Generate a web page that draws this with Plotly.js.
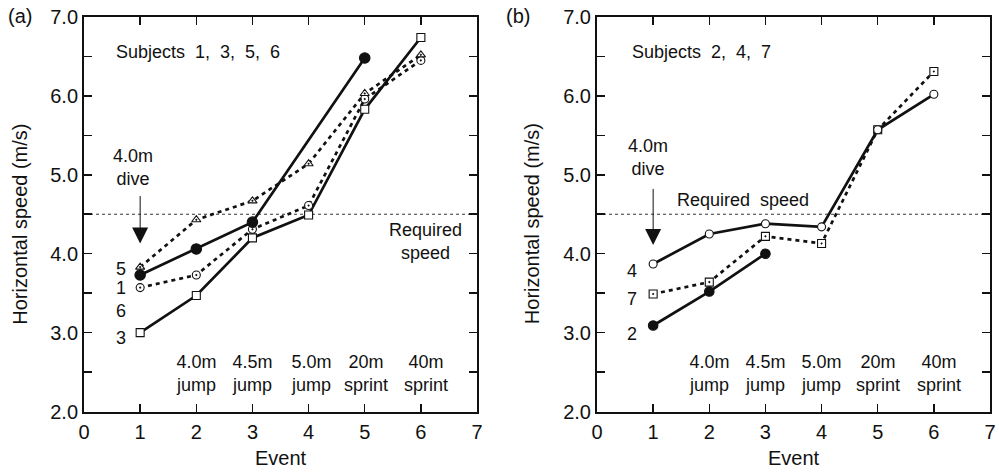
<!DOCTYPE html>
<html>
<head>
<meta charset="utf-8">
<script src="https://cdn.plot.ly/plotly-3.0.1.min.js"></script>
<style>html,body{margin:0;padding:0;background:#fff}#chart{width:999px;height:476px}</style>
</head>
<body>
<div id="chart"></div>
<script>
// ---- Data ----
const events = [1, 2, 3, 4, 5, 6];
const eventsToFive = [1, 2, 3, 5];
const eventsToThree = [1, 2, 3];
const xTickVals = [0, 1, 2, 3, 4, 5, 6, 7];
const xTickText = ['0', '1', '2', '3', '4', '5', '6', '7'];
const requiredSpeed = 4.5;

// Panel (a): subjects 1, 3, 5, 6
const subjA_triangle = [3.83, 4.43, 4.67, 5.14, 6.03, 6.52];
const subjA_filled = [3.73, 4.06, 4.40, 6.48];
const subjA_dotCircle = [3.57, 3.73, 4.31, 4.61, 5.96, 6.45];
const subjA_square = [3.00, 3.47, 4.20, 4.49, 5.83, 6.74];

// Panel (b): subjects 2, 4, 7
const subjB_openCircle = [3.87, 4.25, 4.38, 4.34, 5.57, 6.02];
const subjB_dotSquare = [3.49, 3.64, 4.22, 4.13, 5.57, 6.31];
const subjB_filled = [3.09, 3.52, 4.00];

const eventLabels = ['4.0m<br>jump', '4.5m<br>jump', '5.0m<br>jump', '20m<br>sprint', '40m<br>sprint'];
const eventLabelX_A = [2.0, 3.0, 4.06, 5.02, 6.1];
const eventLabelX_B = [2.0, 3.0, 4.0, 5.0, 6.1];

const FONT = 'Liberation Sans, Arial, sans-serif';
const dashPat = '4px,4px';

function line(x, y, xa, ya, dash, sym, fill, size) {
  return {
    x: x, y: y, xaxis: xa, yaxis: ya, type: 'scatter', mode: 'lines+markers',
    line: {color: '#111', width: 2.7, dash: dash},
    marker: {symbol: sym, size: size, color: fill, line: {color: '#111', width: 1.1}},
    showlegend: false, cliponaxis: false
  };
}

const traces = [
  line(events, subjA_square, 'x', 'y', 'solid', 'square', '#fff', 8),
  line(events, subjA_dotCircle, 'x', 'y', dashPat, 'circle-dot', '#fff', 8),
  line(events, subjA_triangle, 'x', 'y', dashPat, 'triangle-up-dot', '#fff', 8),
  line(eventsToFive, subjA_filled, 'x', 'y', 'solid', 'circle', '#111', 10.5),
  line(events, subjB_dotSquare, 'x2', 'y2', dashPat, 'square-dot', '#fff', 8),
  line(events, subjB_openCircle, 'x2', 'y2', 'solid', 'circle', '#fff', 8),
  line(eventsToThree, subjB_filled, 'x2', 'y2', 'solid', 'circle', '#111', 9.5)
];

function xax(domain, anchor) {
  return {
    domain: domain, anchor: anchor, range: [0, 7], tickvals: xTickVals, ticktext: xTickText,
    ticks: 'inside', ticklen: 8, tickwidth: 1.5, tickcolor: '#111', mirror: 'ticks',
    showline: true, linecolor: '#111', linewidth: 2, showgrid: false, zeroline: false,
    tickfont: {family: FONT, size: 20, color: '#111'}, automargin: false, ticklabelstandoff: 1
  };
}
function yax(anchor) {
  return {
    domain: [0.1355, 0.9643], anchor: anchor, range: [2, 7], dtick: 1, tick0: 2, tickformat: '.1f',
    ticks: 'inside', ticklen: 8, tickwidth: 1.5, tickcolor: '#111', mirror: 'ticks',
    minor: {dtick: 0.5, ticks: 'inside', ticklen: 8, tickwidth: 1.5, tickcolor: '#111'},
    showline: true, linecolor: '#111', linewidth: 2, showgrid: false, zeroline: false,
    tickfont: {family: FONT, size: 20, color: '#111'}, automargin: false, ticklabelstandoff: 0
  };
}

const ann = [];
const F18 = {family: FONT, size: 18, color: '#111'};
function txt(x, y, xr, yr, t, opts) {
  ann.push(Object.assign({x: x, y: y, xref: xr, yref: yr, text: t, showarrow: false,
    font: F18}, opts || {}));
}

// Panel labels
const F20 = {family: FONT, size: 20, color: '#111'};
txt(0.006, 0.967, 'paper', 'paper', '(a)', {xanchor: 'left', yanchor: 'middle', font: F20});
txt(0.505, 0.967, 'paper', 'paper', '(b)', {xanchor: 'left', yanchor: 'middle', font: F20});
// Axis titles
txt(0.02, 0.53, 'paper', 'paper', 'Horizontal speed (m/s)', {textangle: -90, xanchor: 'center', yanchor: 'middle', font: F20});
txt(0.532, 0.53, 'paper', 'paper', 'Horizontal speed (m/s)', {textangle: -90, xanchor: 'center', yanchor: 'middle', font: F20});
txt(3.5, 0.038, 'x', 'paper', 'Event', {yanchor: 'middle', font: F20});
txt(3.5, 0.038, 'x2', 'paper', 'Event', {yanchor: 'middle', font: F20});

// Subjects
txt(0.53, 6.56, 'x', 'y', 'Subjects&nbsp;&nbsp;1,&nbsp;&nbsp;3,&nbsp;&nbsp;5,&nbsp;&nbsp;6', {xanchor: 'left', yanchor: 'middle'});
txt(0.59, 6.56, 'x2', 'y2', 'Subjects&nbsp;&nbsp;2,&nbsp;&nbsp;4,&nbsp;&nbsp;7', {xanchor: 'left', yanchor: 'middle'});

// Dive labels
txt(0.87, 5.09, 'x', 'y', '4.0m<br>dive', {xanchor: 'center', yanchor: 'middle'});
txt(0.91, 5.22, 'x2', 'y2', '4.0m<br>dive', {xanchor: 'center', yanchor: 'middle'});
// Arrows
ann.push({x: 1, y: 4.13, ax: 1, ay: 4.75, xref: 'x', yref: 'y', axref: 'x', ayref: 'y', showarrow: true, arrowhead: 2, arrowsize: 3.2, arrowwidth: 1, arrowcolor: '#111', text: ''});
ann.push({x: 1, y: 4.11, ax: 1, ay: 4.84, xref: 'x2', yref: 'y2', axref: 'x2', ayref: 'y2', showarrow: true, arrowhead: 2, arrowsize: 3.2, arrowwidth: 1, arrowcolor: '#111', text: ''});

// Required speed
txt(6.08, 4.15, 'x', 'y', 'Required<br>speed', {xanchor: 'center', yanchor: 'middle'});
txt(2.6, 4.68, 'x2', 'y2', 'Required&nbsp;&nbsp;speed', {xanchor: 'center', yanchor: 'middle'});

// Subject number labels
const numA = ['5', '1', '6', '3'];
const numAy = [3.81, 3.57, 3.28, 2.93];
numA.forEach((n, i) => txt(0.65, numAy[i], 'x', 'y', n, {xanchor: 'center', yanchor: 'middle'}));
const numB = ['4', '7', '2'];
const numBy = [3.78, 3.42, 2.98];
numB.forEach((n, i) => txt(0.62, numBy[i], 'x2', 'y2', n, {xanchor: 'center', yanchor: 'middle'}));

// Event labels
eventLabels.forEach((t, i) => {
  txt(eventLabelX_A[i], 2.48, 'x', 'y', t, {xanchor: 'center', yanchor: 'middle'});
  txt(eventLabelX_B[i], 2.48, 'x2', 'y2', t, {xanchor: 'center', yanchor: 'middle'});
});

const shapes = [
  {type: 'line', xref: 'x', yref: 'y', x0: 0, x1: 7, y0: requiredSpeed, y1: requiredSpeed, line: {color: '#333', width: 1, dash: '3px,3px'}, layer: 'below'},
  {type: 'line', xref: 'x2', yref: 'y2', x0: 0, x1: 7, y0: requiredSpeed, y1: requiredSpeed, line: {color: '#333', width: 1, dash: '3px,3px'}, layer: 'below'}
];

const layout = {
  width: 999, height: 476, margin: {l: 0, r: 0, t: 0, b: 0},
  paper_bgcolor: '#fff', plot_bgcolor: '#fff',
  xaxis: xax([0.0841, 0.4775], 'y'),
  yaxis: yax('x'),
  xaxis2: xax([0.5976, 0.991], 'y2'),
  yaxis2: yax('x2'),
  annotations: ann, shapes: shapes, showlegend: false,
  font: {family: FONT, color: '#111'}
};

Plotly.newPlot('chart', traces, layout, {displayModeBar: false, staticPlot: true});
</script>
</body>
</html>
